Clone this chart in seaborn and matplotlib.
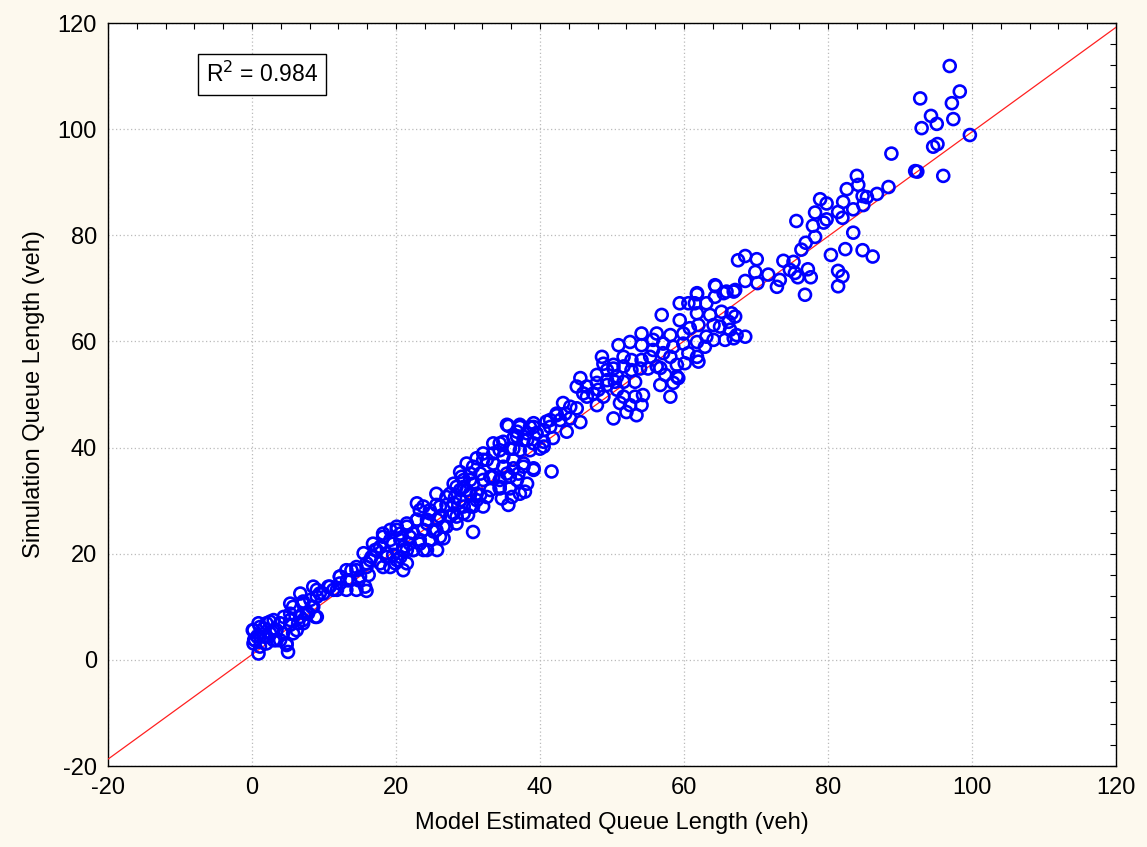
import numpy as np
import pandas as pd
import matplotlib
matplotlib.use("Agg")
import matplotlib.pyplot as plt
import seaborn as sns
from matplotlib.ticker import MultipleLocator

# ---- data ----
model_est = [
    96.9, 92.8, 98.3, 97.2, 94.3, 95.1, 97.4, 93.0, 99.7, 94.6, 95.2, 88.8, 92.1, 92.4, 96.0,
    88.4, 84.0, 84.2, 82.6, 84.8, 85.4, 86.8, 78.9, 79.8, 82.1, 84.9, 81.4, 83.5, 78.2, 82.0,
    79.8, 79.4, 75.6, 77.9, 83.5, 78.2, 76.9, 76.3, 80.4, 82.4, 84.8, 86.2, 67.5, 68.5, 70.1,
    69.9, 71.7, 73.8, 75.2, 74.7, 75.4, 75.8, 77.2, 77.6, 81.4, 82.0, 81.4, 64.4, 61.8, 68.5,
    70.2, 73.3, 72.9, 76.8, 65.9, 67.1,
    64.3, 61.8, 59.4, 60.6, 56.9, 61.5, 63.1, 64.3, 65.5, 66.9, 61.8, 63.6, 65.2, 66.6,
    59.4, 60.8, 62.0, 64.1, 66.2, 67.1, 65.0, 66.4, 67.3, 68.5, 63.1, 64.1, 65.7, 66.9,
    59.9, 61.8, 62.9, 60.6, 61.8, 62.0, 60.1, 56.2, 58.1, 59.9, 55.7, 57.1, 58.5,
    54.1, 52.5, 54.1, 55.7, 57.1, 58.1, 50.9, 51.6, 52.7, 54.1, 55.3,
    50.2, 51.6, 52.7, 53.9, 55.0, 56.2, 56.7, 57.4, 59.0, 59.0, 59.2, 58.5, 56.7, 58.1,
    53.2, 51.6, 53.2, 54.3, 51.1, 52.5, 54.1, 52.0, 53.4, 50.2,
    48.6, 48.8, 49.3, 50.2, 47.9, 49.3, 50.7, 51.6, 45.6, 46.5, 47.9, 49.3, 50.4,
    45.1, 46.0, 46.5, 47.4, 48.1, 48.8, 50.7, 47.9,
    43.2, 44.2, 45.1, 42.3, 43.5, 41.4, 42.8, 44.2, 45.6,
    41.4, 40.5, 39.1, 38.6, 39.5, 38.2, 37.2, 35.6, 36.8,
    40.5, 39.1, 37.7, 36.3, 34.9, 33.5, 34.4, 35.8, 37.2, 38.6, 40.0, 41.6, 39.1, 37.7,
    36.3, 34.9, 33.5, 32.6, 32.1, 31.2, 29.8, 30.3, 28.9, 29.4, 30.7, 32.1, 33.5, 35.4,
    36.8, 38.2, 37.2, 35.8, 34.4, 33.1, 31.7, 30.3, 28.9, 28.0, 28.2,
    30.7, 25.6, 27.5, 29.4, 30.3, 28.9, 27.0, 25.6, 23.8, 22.9,
    24.7, 26.1, 28.0, 29.4, 30.3, 31.2, 28.4, 27.0, 25.6, 24.3, 22.9, 21.5, 20.1, 19.2,
    20.6, 21.9, 23.3, 24.7, 26.6, 23.8, 22.4, 21.0, 19.6, 18.2, 16.8, 17.3, 18.7, 20.1,
    21.5, 19.2, 17.8, 16.4, 15.5, 15.9, 14.5, 13.1, 12.2, 13.6, 15.0, 15.9, 14.5, 13.1,
    11.8, 10.8, 9.4, 8.5, 9.0, 8.1, 7.1, 6.7, 5.7, 5.3, 6.7, 7.6, 8.5, 9.0, 7.1, 6.2,
    5.3, 4.4, 3.9, 3.0, 2.0, 1.1, 0.2, 0.3, 0.7, 1.6, 2.5, 3.4, 4.8, 3.9, 3.0, 2.0,
    1.1, 0.2, 0.9, 5.0,
    0.9, 1.6, 2.5, 3.0, 0.4, 1.1, 2.0, 3.4, 4.3, 5.3, 4.8, 5.7, 6.4, 7.1, 7.8, 8.8,
    5.3, 7.1, 8.3, 9.0, 9.9, 10.6, 11.3, 12.2, 12.2, 13.2, 13.8, 14.5, 14.8, 15.7, 16.2,
    15.9, 16.6, 17.1, 17.8, 18.7, 18.2, 19.9, 21.0, 20.6, 21.5, 0.1,
    35.4, 37.2, 39.1, 40.9, 42.3, 43.7, 41.8, 40.5, 39.5, 38.2, 36.8, 36.3, 34.4, 33.5,
    34.9, 36.3, 37.7, 39.1, 37.0, 35.8, 34.4, 33.1, 32.1, 30.7, 31.7, 30.3, 29.1, 28.4,
    29.8, 31.2, 32.6, 34.4, 34.7, 36.1, 35.6, 37.9, 27.0, 28.0, 29.4, 30.7, 32.1, 28.4,
    30.0, 26.1, 24.7, 23.3, 25.7, 24.3, 22.9, 26.6, 25.2, 23.8, 22.4, 21.5, 20.1, 20.6,
    19.2, 18.2, 21.9, 23.3, 24.7, 26.1, 25.7, 24.3, 22.4, 21.0, 19.6, 27.5,
]
simulation = [
    111.9, 105.8, 107.1, 104.9, 102.5, 101.0, 101.9, 100.2, 98.9, 96.7, 97.2, 95.4, 92.1, 92.0, 91.2,
    89.1, 91.2, 89.5, 88.7, 87.4, 87.2, 87.8, 86.8, 86.0, 86.3, 85.7, 84.4, 84.9, 84.3, 83.3,
    83.0, 82.4, 82.7, 81.8, 80.5, 79.7, 78.6, 77.3, 76.3, 77.4, 77.2, 76.0, 75.3, 76.1, 75.5,
    73.1, 72.6, 75.2, 75.0, 73.5, 72.9, 72.1, 73.6, 72.1, 73.3, 72.3, 70.4, 70.4, 68.9, 71.4,
    71.0, 71.6, 70.3, 68.8, 69.4, 69.7,
    70.6, 69.1, 67.2, 67.2, 65.0, 67.2, 67.2, 68.4, 69.1, 69.4, 65.3, 65.0, 65.6, 65.3,
    64.0, 62.5, 63.1, 63.1, 63.7, 64.7, 62.8, 62.2, 61.2, 60.9, 60.9, 60.3, 60.3, 60.6,
    59.6, 59.9, 59.0, 57.8, 57.1, 56.2, 55.9, 61.5, 61.2, 61.5, 60.3, 59.6, 59.0,
    61.5, 59.9, 59.3, 58.4, 57.8, 57.1, 59.3, 57.1, 56.5, 56.5, 57.1,
    55.6, 55.3, 54.6, 54.9, 54.9, 55.3, 55.0, 53.7, 55.6, 53.4, 53.1, 52.2, 51.8, 49.6,
    52.4, 49.6, 49.6, 49.9, 48.4, 48.0, 48.0, 46.7, 46.1, 45.5,
    57.1, 55.8, 54.6, 54.9, 53.7, 52.7, 53.4, 52.4, 53.1, 51.5, 52.2, 51.8, 52.4,
    51.5, 50.2, 49.6, 50.2, 50.9, 49.6, 50.9, 48.0,
    48.4, 47.7, 47.4, 46.4, 46.4, 45.2, 45.2, 45.5, 44.8,
    43.9, 43.3, 44.6, 43.9, 42.7, 42.7, 44.3, 44.1, 43.0,
    41.1, 40.8, 41.4, 41.8, 41.1, 40.8, 39.5, 39.8, 39.5, 39.5, 39.8, 35.5, 36.1, 36.4,
    36.1, 36.4, 37.0, 37.7, 38.9, 38.0, 37.0, 35.1, 35.4, 33.9, 33.2, 33.9, 34.5, 35.1,
    33.9, 33.2, 31.3, 32.3, 32.3, 32.0, 31.1, 31.3, 32.0, 33.2, 30.7,
    24.1, 31.3, 31.3, 32.6, 31.3, 30.1, 29.2, 29.2, 28.9, 29.5,
    27.6, 27.0, 27.6, 27.6, 28.9, 30.1, 25.7, 25.1, 24.5, 25.7, 26.4, 25.7, 25.1, 24.5,
    23.8, 23.2, 22.6, 22.6, 22.9, 20.7, 20.7, 21.3, 21.9, 23.2, 21.9, 20.7, 19.4, 18.8,
    18.2, 17.5, 18.2, 18.8, 20.1, 17.5, 16.9, 16.9, 15.7, 15.0, 15.7, 13.0, 13.2, 13.2,
    13.2, 13.8, 12.5, 13.8, 11.9, 11.3, 10.6, 12.5, 10.0, 8.7, 8.1, 8.7, 10.0, 8.1, 6.9, 5.6,
    7.5, 8.1, 6.9, 7.5, 6.9, 6.2, 5.6, 3.8, 4.4, 4.4, 5.0, 5.6, 3.1, 3.7, 3.7, 3.1,
    2.5, 3.1, 1.2, 1.5,
    6.9, 5.9, 7.2, 5.6, 3.7, 4.4, 4.4, 3.7, 5.0, 6.6, 2.8, 5.0, 6.9, 7.5, 8.8, 8.1,
    10.6, 11.0, 10.0, 13.2, 12.5, 13.8, 13.2, 14.4, 15.7, 15.0, 16.9, 17.5, 15.0, 13.8, 16.0,
    18.2, 19.4, 20.7, 21.3, 20.1, 17.5, 18.2, 16.9, 19.4, 20.7, 5.6,
    44.3, 43.9, 43.9, 44.9, 46.1, 43.0, 41.8, 40.2, 42.7, 41.4, 42.1, 39.8, 40.8, 38.9,
    38.3, 37.7, 37.0, 35.8, 35.1, 34.5, 33.9, 34.5, 37.7, 36.4, 35.1, 33.9, 34.5, 32.6,
    32.0, 31.3, 30.7, 32.6, 30.4, 30.7, 29.2, 31.7, 30.7, 29.5, 28.9, 28.9, 28.9, 27.0,
    27.3, 28.9, 28.2, 28.2, 26.4, 26.4, 26.4, 25.1, 24.2, 24.5, 23.8, 25.1, 24.5, 22.6,
    22.6, 23.8, 21.9, 21.9, 22.6, 23.2, 20.7, 20.7, 20.7, 20.7, 19.8, 27.0,
]
fit_x = [-20, 120]
fit_y = [-18.7, 119.2]
r2_label = "R$^2$ = 0.984"
x_label = "Model Estimated Queue Length (veh)"
y_label = "Simulation Queue Length (veh)"

df = pd.DataFrame({"model": model_est, "sim": simulation})
fit_df = pd.DataFrame({"x": fit_x, "y": fit_y})

sns.set_style("white")
plt.rcParams["font.family"] = ["Liberation Sans", "DejaVu Sans"]
plt.rcParams["axes.unicode_minus"] = False

bg = "#FDF9EE"
fig = plt.figure(figsize=(11.47, 8.47), dpi=100, facecolor=bg)
ax = fig.add_axes([0.0942, 0.0956, 0.8788, 0.8772])
ax.set_facecolor("white")

sns.lineplot(data=fit_df, x="x", y="y", ax=ax, color="#FF2020", lw=0.9, zorder=3)
sns.scatterplot(data=df, x="model", y="sim", ax=ax, marker="o", s=74,
                facecolors="none", edgecolor="#0000FF", linewidth=1.9, zorder=4)

ax.set_xlim(-20, 120)
ax.set_ylim(-20, 120)
ax.xaxis.set_major_locator(MultipleLocator(20))
ax.yaxis.set_major_locator(MultipleLocator(20))
ax.xaxis.set_minor_locator(MultipleLocator(4))
ax.yaxis.set_minor_locator(MultipleLocator(4))
ax.tick_params(which="both", direction="in", top=True, right=True,
               length=4, width=0.8, color="black")
ax.tick_params(which="major", labelsize=17, pad=8, labelcolor="black")
ax.grid(True, which="major", color="#BBBBBB", linestyle=(0, (1, 2)), linewidth=0.9)
ax.set_axisbelow(True)
for sp in ax.spines.values():
    sp.set_color("black")
    sp.set_linewidth(1.0)

ax.set_xlabel(x_label, fontsize=17, labelpad=9, color="black")
ax.set_ylabel(y_label, fontsize=17, labelpad=9, color="black")

ax.text(0.153, 0.931, r2_label, transform=ax.transAxes, ha="center", va="center",
        fontsize=16.5, zorder=5, color="black",
        bbox=dict(boxstyle="square,pad=0.35", facecolor="white", edgecolor="black", lw=1.0))

fig.savefig("out.png", dpi=100, facecolor=bg)
